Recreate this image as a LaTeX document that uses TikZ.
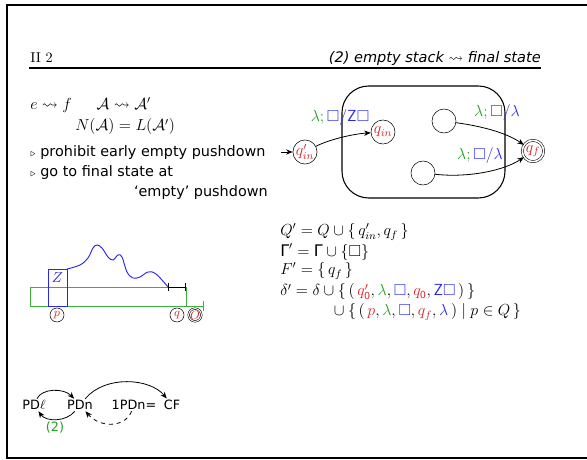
\documentclass[tikz,border=0pt]{standalone}
\usepackage{amsmath,amssymb}
\usepackage{fontspec}
\newfontfamily\dv{DejaVu Sans}
\usetikzlibrary{arrows.meta}
\definecolor{cr}{RGB}{210,40,40}
\definecolor{cg}{RGB}{30,160,30}
\definecolor{cb}{RGB}{40,40,235}
\definecolor{cgl}{RGB}{60,175,60}
\begin{document}
\begin{tikzpicture}[x=0.75pt,y=-0.75pt,
  st/.style={circle,draw,inner sep=0pt,minimum size=18pt,font=\fontsize{11.5}{13}\selectfont,text=cr},
  sm/.style={circle,draw,inner sep=0pt,minimum size=10.5pt,font=\fontsize{9}{10}\selectfont,text=cr},
  lab/.style={inner sep=0pt,font=\fontsize{12}{14}\selectfont},
  eq/.style={anchor=west,inner sep=0pt,font=\fontsize{12}{14}\selectfont},
  txt/.style={anchor=west,inner sep=0pt,font=\dv\fontsize{10.8}{13}\selectfont},
  bt/.style={inner sep=1pt,font=\dv\fontsize{9.6}{11}\selectfont},
  arr/.style={-{Stealth[length=5pt,width=4pt]},line width=0.6pt}]
\useasboundingbox (0,0) rectangle (587,460);
\clip (0,0) rectangle (587,460);
\draw[line width=1.6pt] (7,5) rectangle (640,458);

% header
\node[anchor=west,inner sep=0pt,font=\fontsize{10.7}{13}\selectfont] (hd) at (30,58) {II 2};
\node[anchor=east,inner sep=0pt,font=\dv\itshape\fontsize{10.9}{13}\selectfont] (ttl) at (541,58) {(2) empty stack $\leadsto$ final state};
\coordinate (r1) at (29,68);
\coordinate (r2) at (541,68);
\draw[line width=1.1pt] (r1) -- (r2);

% left text
\node[eq] (ef) at (30,105) {$e \leadsto f \quad\;\; \mathcal{A} \leadsto \mathcal{A}'$};
\node[eq] (na) at (75,127) {$N(\mathcal{A}) = L(\mathcal{A}')$};
\node[txt] (b1) at (30,153) {{\scriptsize$\triangleright$} prohibit early empty pushdown};
\node[txt] (b2) at (30,173) {{\scriptsize$\triangleright$} go to final state at};
\node[txt,anchor=east] (b3) at (268,193) {‘empty’ pushdown};

% automaton
\draw[line width=0.8pt,rounded corners=20pt] (342,86) rectangle (505,198);
\node[st] (qi) at (305,152) {$q'_{in}$};
\node[st] (q0) at (383,132) {$q_{in}$};
\node[st] (u1) at (444,121) {};
\node[st] (u2) at (423,173) {};
\node[st,double,double distance=1.2pt,minimum size=16pt] (qf) at (533,151) {$q_f$};
\coordinate (s0) at (281,152);
\draw[arr] (s0) -- (qi);
\draw[arr] (qi) .. controls (328,140) and (352,134) .. (q0);
\draw[arr] (u1) .. controls (480,126) and (505,132) .. (qf);
\draw[arr] (u2) .. controls (470,178) and (505,170) .. (qf);
\node[lab] (l1) at (340,118) {$\textcolor{cg}{\lambda;}\,\textcolor{cb}{\Box/\textsf{Z}\Box}$};
\node[lab] (l2) at (497,113) {$\textcolor{cg}{\lambda;}\,\textcolor{cb}{\Box/\lambda}$};
\node[lab] (l3) at (480,156) {$\textcolor{cg}{\lambda;}\,\textcolor{cb}{\Box/\lambda}$};

% stack picture
\draw[cgl,line width=0.7pt] (30,287) rectangle (186,306);
\coordinate (g1) at (186,306);
\coordinate (g2) at (204,306);
\draw[cgl,line width=0.7pt,-{Bar[width=7pt]}] (g1) -- (g2);
\draw[cb,line width=0.7pt] (48,269) rectangle (67,306);
\node[inner sep=0pt,text=cb,font=\fontsize{10.5}{12}\selectfont] (zz) at (57.5,278) {$Z$};
\draw[cb,line width=0.7pt] plot[smooth,tension=0.6] coordinates {(67,269) (80,265) (88,258) (93,248) (97,245) (102,248) (108,257) (113,260) (118,255) (122,257) (127,272) (133,278) (140,277) (148,272) (156,274) (168,287)};
\coordinate (k1) at (168,287);
\coordinate (k2) at (186,287);
\draw[line width=0.7pt,{Bar[width=6pt]}-{Bar[width=6pt]}] (k1) -- (k2);
\node[sm] (sp) at (57,315) {$p$};
\node[sm] (sq) at (177,315) {$q$};
\node[sm,double,double distance=0.8pt,minimum size=9pt] (sf) at (195,315) {$O$};

% equations
\node[eq] (e1) at (280,232) {$Q' = Q \cup \{\, q'_{in}, q_f \,\}$};
\node[eq] (e2) at (280,252) {$\text{\dv Γ}' = \text{\dv Γ} \cup \{\Box\}$};
\node[eq] (e3) at (280,271) {$F' = \{\, q_f \,\}$};
\node[eq] (e4) at (280,292) {$\delta' = \delta \cup \{\, (\, \textcolor{cr}{q'_{\textsf{0}}}, \textcolor{cg}{\lambda}, \textcolor{cb}{\Box}, \textcolor{cr}{q_{\textsf{0}}}, \textcolor{cb}{\textsf{Z}\Box} \,) \,\}$};
\node[eq] (e5) at (330,312) {${}\cup \{\, (\, \textcolor{cr}{p}, \textcolor{cg}{\lambda}, \textcolor{cb}{\Box}, \textcolor{cr}{q_f}, \textcolor{cb}{\lambda} \,) \mid p \in Q \,\}$};

% bottom
\node[bt] (pdl) at (34,405) {PD$\ell$};
\node[bt] (pdn) at (80,405) {PDn};
\node[bt] (pd1) at (134,405) {1PDn=};
\node[bt] (cf) at (172,405) {CF};
\node[bt,text=cg] (two) at (55,427) {(2)};
\draw[arr] (pdl) .. controls (42,388) and (64,388) .. (pdn);
\draw[arr] (pdn) .. controls (66,422) and (46,422) .. (pdl);
\draw[arr] (pdn) .. controls (105,375) and (150,378) .. (cf);
\draw[arr,dashed] (pd1) .. controls (125,428) and (100,428) .. (pdn);
\end{tikzpicture}
\end{document}
